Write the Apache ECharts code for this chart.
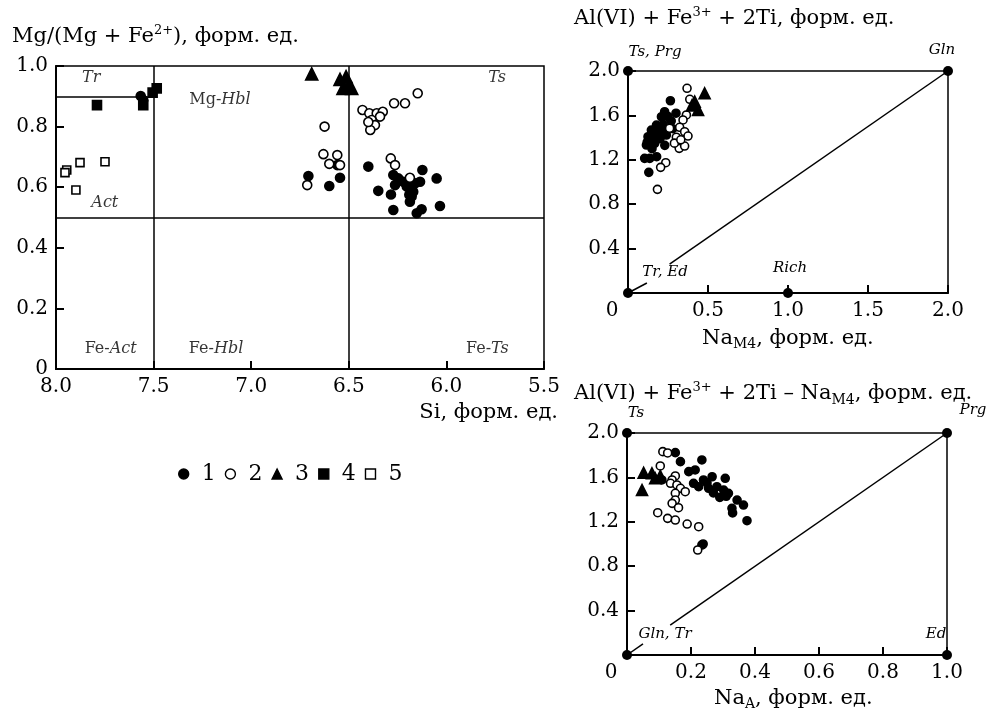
<!DOCTYPE html>
<html>
<head>
<meta charset="utf-8">
<script src="https://cdn.jsdelivr.net/npm/echarts/dist/echarts.min.js"></script>
<style>
html,body{margin:0;padding:0;background:#fff;}
#main{width:1005px;height:715px;}
</style>
</head>
<body>
<div id="main"></div>
<script>
var FONT = 'DejaVu Serif';

// ---- левая диаграмма: Si – Mg/(Mg+Fe2+)
var siTicks = [5.5, 6.0, 6.5, 7.0, 7.5, 8.0];
var mgTicks = [0, 0.2, 0.4, 0.6, 0.8, 1.0];
var left1 = [[7.566,0.901],[7.553,0.888],[6.559,0.673],[6.707,0.637],[6.60,0.604],[6.545,0.631],[6.40,0.668],
    [6.272,0.64],[6.246,0.629],[6.22,0.618],[6.263,0.607],[6.349,0.588],[6.284,0.576],[6.203,0.602],[6.178,0.591],
    [6.178,0.569],[6.187,0.552],[6.16,0.613],[6.135,0.618],[6.123,0.657],[6.05,0.629],[6.033,0.538],[6.272,0.525],
    [6.152,0.514],[6.127,0.527],[6.17,0.585],[6.2,0.61],[6.19,0.575]];
var left2 = [[6.43,0.855],[6.395,0.844],[6.357,0.844],[6.326,0.849],[6.34,0.833],[6.383,0.822],[6.366,0.805],
    [6.39,0.789],[6.268,0.877],[6.212,0.877],[6.147,0.91],[6.624,0.80],[6.63,0.709],[6.559,0.706],[6.60,0.677],
    [6.545,0.673],[6.713,0.607],[6.285,0.695],[6.263,0.673],[6.187,0.631],[6.40,0.815]];
var left3 = [[6.69,0.974],[6.545,0.956],[6.514,0.965],[6.53,0.926],[6.485,0.926],[6.50,0.94]];
var left4 = [[7.79,0.871],[7.553,0.871],[7.484,0.926],[7.505,0.912]];
var left5 = [[7.945,0.657],[7.954,0.648],[7.877,0.681],[7.749,0.684],[7.898,0.591]];
// границы полей
var leftVLines = [7.5, 6.5];
var leftHLines = [0.5];
var trLine = [[8.0, 0.9], [7.5, 0.9]];
// подписи полей: x, y, прямой текст, курсив
var leftFields = [[7.82,0.96,'','Tr'],[7.16,0.888,'Mg-','Hbl'],[5.74,0.96,'','Ts'],[7.75,0.55,'','Act'],
    [7.72,0.066,'Fe-','Act'],[7.18,0.066,'Fe-','Hbl'],[5.79,0.066,'Fe-','Ts']];

// ---- правая верхняя: NaM4 – Al(VI)+Fe3++2Ti
var na4Ticks = [0, 0.5, 1.0, 1.5, 2.0];
var alTicks = [0, 0.4, 0.8, 1.2, 1.6, 2.0];
var top1 = [[0.265,1.732],[0.229,1.633],[0.209,1.588],[0.178,1.513],[0.146,1.468],[0.125,1.408],[0.146,1.378],
    [0.115,1.333],[0.167,1.349],[0.104,1.213],[0.136,1.213],[0.179,1.228],[0.13,1.087],[0.209,1.468],[0.24,1.423],
    [0.2,1.39],[0.25,1.59],[0.27,1.55],[0.23,1.33],[0.19,1.44],[0.15,1.30],[0.22,1.52],[0.16,1.42],[0.12,1.36],
    [0.30,1.62],[0.28,1.48]];
var top2 = [[0.369,1.844],[0.386,1.745],[0.365,1.604],[0.344,1.559],[0.323,1.493],[0.354,1.453],[0.375,1.414],
    [0.302,1.403],[0.32,1.303],[0.354,1.324],[0.29,1.35],[0.236,1.174],[0.204,1.132],[0.184,0.934],[0.26,1.484],
    [0.33,1.38]];
var top3 = [[0.479,1.799],[0.417,1.724],[0.438,1.649],[0.40,1.69]];
var topCorners = [[0,2],[2,2],[0,0],[1,0]];
var topCornerNames = ['Ts, Prg', 'Gln', 'Tr, Ed', 'Rich'];
var topLines = [[[0.26,0.26],[2,2]], [[0,0],[0.118,0.09]]];

// ---- правая нижняя: NaA – Al(VI)+Fe3++2Ti–NaM4
var naaTicks = [0, 0.2, 0.4, 0.6, 0.8, 1.0];
var bot1 = [[0.151,1.823],[0.167,1.742],[0.234,1.757],[0.193,1.652],[0.213,1.667],[0.208,1.547],[0.224,1.516],
    [0.239,1.577],[0.266,1.606],[0.281,1.516],[0.307,1.592],[0.317,1.457],[0.302,1.486],[0.344,1.396],[0.328,1.321],
    [0.364,1.351],[0.375,1.21],[0.255,1.502],[0.27,1.46],[0.29,1.42],[0.33,1.28],[0.234,0.991],[0.109,1.577],
    [0.238,1.0],[0.25,1.55],[0.31,1.43]];
var bot2 = [[0.112,1.832],[0.127,1.82],[0.104,1.703],[0.151,1.613],[0.141,1.577],[0.136,1.547],[0.156,1.532],
    [0.167,1.502],[0.182,1.471],[0.151,1.457],[0.151,1.396],[0.141,1.366],[0.161,1.327],[0.096,1.282],[0.127,1.231],
    [0.151,1.216],[0.188,1.18],[0.224,1.156],[0.221,0.946]];
var bot3 = [[0.047,1.486],[0.052,1.642],[0.078,1.637],[0.104,1.613],[0.088,1.592]];
var botCorners = [[0,2],[1,2],[0,0],[1,0]];
var botCornerNames = ['Ts', 'Prg', 'Gln, Tr', 'Ed'];
var botLines = [[[0.135,0.27],[1,2]], [[0,0],[0.05,0.1]]];

var groupNames = ['1', '2', '3', '4', '5'];
var groupSymbols = ['circle', 'circle', 'triangle', 'rect', 'rect'];
var groupFill = ['#000', '#fff', '#000', '#000', '#fff'];

var myChart = echarts.init(document.getElementById('main'));

function fmt1(v) { return v === 0 ? '0' : v.toFixed(1); }

function labelStyle(extra) {
    var s = {color: '#000', fontFamily: FONT, fontSize: 20, margin: 8, formatter: fmt1};
    for (var k in extra) s[k] = extra[k];
    return s;
}

function makeAxis(idx, ticks, pos, extra) {
    var ax = {
        type: 'value',
        gridIndex: idx,
        position: pos,
        min: ticks[0],
        max: ticks[ticks.length - 1],
        interval: ticks[1] - ticks[0],
        splitLine: {show: false},
        axisLine: {show: true, onZero: false, lineStyle: {color: '#000', width: 2}},
        axisTick: {show: true, inside: true, length: 8, lineStyle: {color: '#000', width: 2}},
        axisLabel: labelStyle({})
    };
    for (var k in extra) ax[k] = extra[k];
    return ax;
}

function pts(g, idx, data, size) {
    return {
        name: groupNames[g],
        type: 'scatter',
        xAxisIndex: idx,
        yAxisIndex: idx,
        data: data,
        symbol: groupSymbols[g],
        symbolSize: groupSymbols[g] === 'triangle' ? size + 3 : size,
        itemStyle: {color: groupFill[g], borderColor: '#000', borderWidth: 1.6, opacity: 1},
        emphasis: {disabled: true},
        z: 3
    };
}

function lines(idx, segs, full) {
    var d = full ? full.slice() : [];
    segs.forEach(function (s) { d.push([{coord: s[0]}, {coord: s[1]}]); });
    return {
        type: 'scatter', xAxisIndex: idx, yAxisIndex: idx, data: [],
        markLine: {
            silent: true, animation: false, symbol: ['none', 'none'],
            label: {show: false},
            lineStyle: {color: '#000', width: 1.5, type: 'solid'},
            emphasis: {disabled: true},
            data: d
        }
    };
}

var labelOffTop = [[27,-19],[-6,-21],[37,-21],[2,-25]];
var labelOffBot = [[9,-20],[26,-23],[38,-21],[-11,-21]];

function corners(idx, c, names, offs) {
    return {
        type: 'scatter', xAxisIndex: idx, yAxisIndex: idx,
        symbol: 'circle', symbolSize: 10, clip: false,
        itemStyle: {color: '#000', opacity: 1},
        emphasis: {disabled: true},
        z: 4,
        data: c.map(function (p, i) {
            return {
                value: p,
                label: {
                    show: true, position: 'inside', offset: offs[i],
                    formatter: names[i], color: '#000',
                    fontFamily: FONT, fontStyle: 'italic', fontSize: 15
                }
            };
        })
    };
}

var richTitle = {
    n: {fontFamily: FONT, fontSize: 21, lineHeight: 26, color: '#000'},
    sup: {fontFamily: FONT, fontSize: 13, lineHeight: 13, verticalAlign: 'top', color: '#000'},
    sub: {fontFamily: FONT, fontSize: 14, lineHeight: 14, verticalAlign: 'bottom', color: '#000'}
};

function txt(text, pos) {
    var t = {
        type: 'text', silent: true,
        style: {text: text, rich: richTitle, fontFamily: FONT, fontSize: 21, fill: '#000'}
    };
    for (var k in pos) t[k] = pos[k];
    return t;
}

var zeroShift = {
    z: {fontFamily: FONT, fontSize: 20, color: '#000', padding: [0, 32, 0, 0]}
};
function zeroLeft(v) { return v === 0 ? '{z|0}' : v.toFixed(1); }
function noZero(v) { return v === 0 ? '' : v.toFixed(1); }

var option = {
    backgroundColor: '#fff',
    animation: false,
    legend: {
        left: 173,
        top: 458,
        itemWidth: 10,
        itemHeight: 10,
        itemGap: 9,
        selectedMode: false,
        formatter: function (n) { return '{t|' + n + '}'; },
        textStyle: {
            color: '#000', fontFamily: FONT, fontSize: 22,
            rich: {t: {fontFamily: FONT, fontSize: 22, color: '#000', padding: [0, 0, 0, 8]}}
        },
        data: groupNames.map(function (n, i) {
            return {
                name: n,
                icon: groupSymbols[i],
                itemStyle: {color: groupFill[i], borderColor: '#000', borderWidth: 1.4, opacity: 1}
            };
        })
    },
    grid: [
        {left: 56, top: 66, width: 488, height: 303, show: true, borderColor: '#000', borderWidth: 1.5},
        {left: 628, top: 71, width: 320, height: 222, show: true, borderColor: '#000', borderWidth: 1.5},
        {left: 627, top: 433, width: 320, height: 222, show: true, borderColor: '#000', borderWidth: 1.5}
    ],
    xAxis: [
        makeAxis(0, siTicks, 'bottom', {inverse: true}),
        makeAxis(1, na4Ticks, 'bottom', {axisLabel: labelStyle({rich: zeroShift, formatter: zeroLeft})}),
        makeAxis(2, naaTicks, 'bottom', {axisLabel: labelStyle({rich: zeroShift, formatter: zeroLeft})})
    ],
    yAxis: [
        makeAxis(0, mgTicks, 'left', {}),
        makeAxis(1, alTicks, 'left', {axisLabel: labelStyle({formatter: noZero})}),
        makeAxis(2, alTicks, 'left', {axisLabel: labelStyle({formatter: noZero})})
    ],
    graphic: [
        txt('{n|Mg/(Mg + Fe}{sup|2+}{n|), форм. ед.}', {left: 12, top: 24}),
        txt('{n|Si, форм. ед.}', {right: 447, top: 402}),
        txt('{n|Al(VI) + Fe}{sup|3+}{n| + 2Ti, форм. ед.}', {left: 574, top: 6}),
        txt('{n|Na}{sub|M4}{n|, форм. ед.}', {left: 702, top: 328}),
        txt('{n|Al(VI) + Fe}{sup|3+}{n| + 2Ti – Na}{sub|M4}{n|, форм. ед.}', {left: 574, top: 381}),
        txt('{n|Na}{sub|A}{n|, форм. ед.}', {left: 714, top: 688})
    ],
    series: [
        lines(0, [trLine], leftVLines.map(function (v) { return {xAxis: v}; })
            .concat(leftHLines.map(function (v) { return {yAxis: v}; }))),
        pts(0, 0, left1, 9), pts(1, 0, left2, 9), pts(2, 0, left3, 9), pts(3, 0, left4, 9), pts(4, 0, left5, 8),
        {
            type: 'scatter', xAxisIndex: 0, yAxisIndex: 0, symbolSize: 1,
            itemStyle: {color: 'rgba(0,0,0,0)'}, emphasis: {disabled: true}, silent: true,
            data: leftFields,
            label: {
                show: true, position: 'inside',
                formatter: function (p) {
                    return (p.data[2] ? '{r|' + p.data[2] + '}' : '') + '{i|' + p.data[3] + '}';
                },
                rich: {
                    r: {fontFamily: FONT, fontSize: 16, color: '#000'},
                    i: {fontFamily: FONT, fontSize: 16, fontStyle: 'italic', color: '#000'}
                }
            }
        },
        lines(1, topLines),
        pts(0, 1, top1, 8), pts(1, 1, top2, 8), pts(2, 1, top3, 8),
        corners(1, topCorners, topCornerNames, labelOffTop),
        lines(2, botLines),
        pts(0, 2, bot1, 8), pts(1, 2, bot2, 8), pts(2, 2, bot3, 8),
        corners(2, botCorners, botCornerNames, labelOffBot),
        pts(3, 2, [], 8), pts(4, 2, [], 8)
    ]
};
myChart.setOption(option);
</script>
</body>
</html>
